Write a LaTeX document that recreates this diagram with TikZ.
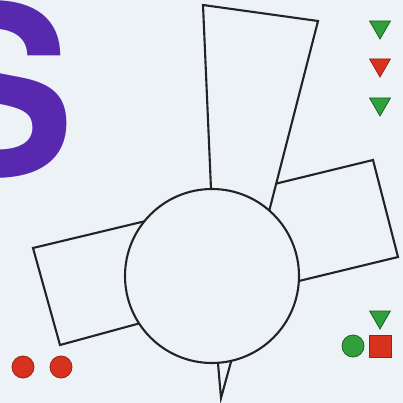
\documentclass[tikz,border=0pt]{standalone}
\usepackage{fontspec}
\newfontfamily\heros{TeX Gyre Heros}
\usetikzlibrary{shapes.geometric}
\definecolor{bg}{RGB}{236,242,245}
\definecolor{ink}{RGB}{35,35,38}
\definecolor{purp}{RGB}{88,40,175}
\definecolor{mgreen}{RGB}{48,160,60}
\definecolor{mred}{RGB}{215,50,30}
\begin{document}
\begin{tikzpicture}[x=1pt,y=-1pt,
  outline/.style={draw=ink,line width=2.1pt,fill=bg,line join=miter},
  tri/.style={regular polygon,regular polygon sides=3,shape border rotate=180,minimum size=24pt,inner sep=0pt,line width=0.8pt},
  dot/.style={circle,minimum size=22pt,inner sep=0pt,line width=0.8pt}]
\useasboundingbox (0,0) rectangle (403,403);
\fill[bg] (0,0) rectangle (403,403);
% big S
\node[anchor=base west,inner sep=0pt,text=purp,font=\heros\bfseries\fontsize{236}{236}\selectfont] (S) at (-83,175.5) {S};
% left rectangle
\draw[outline] (175,214) -- (33,248) -- (60,345) -- (170,315);
% right rectangle
\draw[outline] (250,190) -- (373,160) -- (398,257) -- (270,288);
% spike
\draw[outline] (216,340) -- (221,398) -- (237,340);
% tall trapezoid
\draw[outline] (213,235) -- (203,5) -- (318,21) -- (263,235);
% central circle
\node[circle,draw=ink,line width=2.1pt,fill=bg,minimum size=174pt,inner sep=0pt] (hub) at (212,276) {};
% markers right
\node[tri,fill=mgreen,draw=mgreen!60!black] (t1) at (380,27) {};
\node[tri,fill=mred,draw=mred!70!black] (t2) at (380,65) {};
\node[tri,fill=mgreen,draw=mgreen!60!black] (t3) at (380,104) {};
\node[tri,fill=mgreen,draw=mgreen!60!black] (t4) at (380,317) {};
\node[dot,fill=mgreen,draw=mgreen!60!black] (c1) at (353,346) {};
\node[rectangle,minimum size=22pt,inner sep=0pt,fill=mred,draw=mred!70!black,line width=0.8pt] (sq) at (380,346) {};
% red dots left
\node[dot,fill=mred,draw=mred!70!black] (r1) at (23,367) {};
\node[dot,fill=mred,draw=mred!70!black] (r2) at (61,367) {};
\end{tikzpicture}
\end{document}
